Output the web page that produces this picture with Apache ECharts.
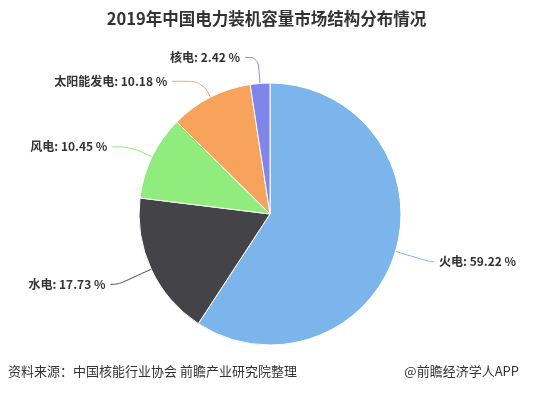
<!DOCTYPE html>
<html><head><meta charset="utf-8">
<script src="https://cdn.jsdelivr.net/npm/echarts@6/dist/echarts.min.js"></script>
<style>html,body{margin:0;padding:0;background:#fff}#c{width:533px;height:394px}</style>
</head><body><div id="c"></div>
<script>
const categories = ['火电', '水电', '风电', '太阳能发电', '核电'];
const values = [59.22, 17.73, 10.45, 10.18, 2.42];
const colors = ['#7cb5ec', '#434348', '#90ed7d', '#f7a35c', '#8085e9'];
const lineLen1 = [36, 36, 23, 18, 26];
const lineLen2 = [4, 8, 19, 30, 13];
const titleText = '2019年中国电力装机容量市场结构分布情况';
const sourceText = '资料来源：中国核能行业协会 前瞻产业研究院整理';
const brandText = '@前瞻经济学人APP';

const chart = echarts.init(document.getElementById('c'), null, {renderer: 'canvas'});
const font = '"Noto Sans CJK SC", "Noto Sans", sans-serif';
chart.setOption({
  animation: false,
  title: {
    text: titleText, left: 'center', top: 5,
    textStyle: {fontFamily: font, fontSize: 16.5, fontWeight: 'bold', color: '#333'}
  },
  graphic: [
    {type: 'text', left: 8, top: 365, style: {text: sourceText, font: '13px ' + font, fill: '#333'}},
    {type: 'text', right: 14, top: 365, style: {text: brandText, font: '13px ' + font, fill: '#333'}}
  ],
  series: [{
    type: 'pie',
    center: [270, 214],
    radius: [0, 131],
    startAngle: 90,
    clockwise: true,
    data: categories.map((n, i) => ({name: n, value: values[i], itemStyle: {color: colors[i]},
      labelLine: {length: lineLen1[i], length2: lineLen2[i], lineStyle: {color: colors[i]}}})),
    itemStyle: {borderColor: '#fff', borderWidth: 1},
    label: {
      formatter: p => p.name + ': ' + p.value.toFixed(2) + ' %',
      fontFamily: font, fontSize: 12, fontWeight: 'bold', color: '#333'
    },
    labelLine: {show: true, smooth: 0.4, lineStyle: {width: 1}},
    emphasis: {disabled: true}
  }]
});
</script></body></html>
